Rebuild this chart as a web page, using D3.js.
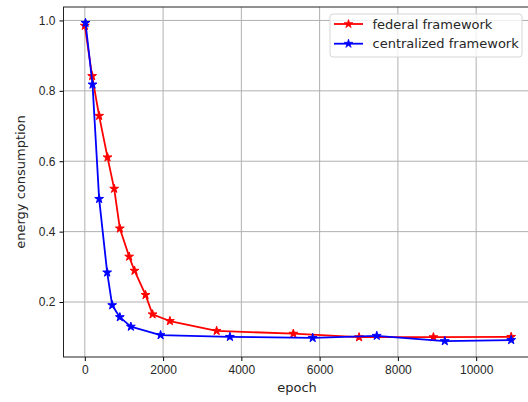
<!DOCTYPE html>
<html lang="en">
<head>
    <meta charset="UTF-8">
    <title>Energy consumption</title>
    <style>
        body {
            margin: 0;
            overflow: hidden;
        }
        svg {
            display: block;
            font-family: "DejaVu Sans", sans-serif;
        }
        .grid line {
            stroke: #b0b0b0;
            stroke-width: 1;
        }
        .tick text {
            font-size: 12px;
        }
        .label {
            font-size: 13px;
        }
        .legend-text {
            font-size: 13px;
        }
    </style>
</head>
<body>

<svg id="chart" width="528" height="402"></svg>

<script src="https://d3js.org/d3.v7.min.js"></script>
<script>
    // federal framework
    const fedEpochs = [0, 187, 366, 580, 750, 895, 1133, 1270, 1552, 1731, 2174, 3368, 5328, 7008, 8908, 10895];
    const fedEnergy = [0.985, 0.842, 0.729, 0.611, 0.522, 0.409, 0.329, 0.289, 0.220, 0.165, 0.146, 0.118, 0.110, 0.100, 0.100, 0.101];

    // centralized framework
    const cenEpochs = [18, 197, 366, 571, 699, 895, 1176, 1936, 3708, 5823, 7460, 9199, 10895];
    const cenEnergy = [0.993, 0.818, 0.493, 0.284, 0.191, 0.157, 0.130, 0.106, 0.101, 0.098, 0.104, 0.089, 0.092];

    const xTicks = [0, 2000, 4000, 6000, 8000, 10000];
    const yTicks = [0.2, 0.4, 0.6, 0.8, 1.0];

    const seriesNames = ["federal framework", "centralized framework"];
    const seriesColors = ["red", "blue"];

    const series = [
        fedEpochs.map((e, i) => ({x: e, y: fedEnergy[i]})),
        cenEpochs.map((e, i) => ({x: e, y: cenEnergy[i]}))
    ];

    const svg = d3.select("#chart");
    const mLeft = 63.5, mRight = 532.5, mTop = 7, mBottom = 357;

    // matplotlib style 5% margins
    const allX = fedEpochs.concat(cenEpochs);
    const allY = fedEnergy.concat(cenEnergy);
    const xExt = d3.extent(allX), yExt = d3.extent(allY);
    const xPad = (xExt[1] - xExt[0]) * 0.05, yPad = (yExt[1] - yExt[0]) * 0.05;

    const x = d3.scaleLinear()
        .domain([xExt[0] - xPad, xExt[1] + xPad])
        .range([mLeft, mRight]);
    const y = d3.scaleLinear()
        .domain([yExt[0] - yPad, yExt[1] + yPad])
        .range([mBottom, mTop]);

    // grid
    const grid = svg.append("g").attr("class", "grid");
    grid.selectAll(".gx").data(xTicks).enter().append("line")
        .attr("x1", d => x(d)).attr("x2", d => x(d))
        .attr("y1", mTop).attr("y2", mBottom);
    grid.selectAll(".gy").data(yTicks).enter().append("line")
        .attr("x1", mLeft).attr("x2", mRight)
        .attr("y1", d => y(d)).attr("y2", d => y(d));

    // axes
    const xAxis = svg.append("g")
        .attr("transform", `translate(0,${mBottom})`)
        .call(d3.axisBottom(x).tickValues(xTicks).tickFormat(d3.format("d")).tickSizeOuter(0).tickSize(4).tickPadding(4));
    const yAxis = svg.append("g")
        .attr("transform", `translate(${mLeft},0)`)
        .call(d3.axisLeft(y).tickValues(yTicks).tickFormat(d3.format(".1f")).tickSizeOuter(0).tickSize(4).tickPadding(4));
    xAxis.select(".domain").remove();
    yAxis.select(".domain").remove();
    svg.selectAll(".tick text").attr("fill", "#262626");

    // frame
    svg.append("rect")
        .attr("x", mLeft).attr("y", mTop)
        .attr("width", mRight - mLeft).attr("height", mBottom - mTop)
        .attr("fill", "none").attr("stroke", "#222").attr("stroke-width", 1);

    // lines and markers
    const line = d3.line().x(d => x(d.x)).y(d => y(d.y));
    const star = d3.symbol().type(d3.symbolStar).size(24);

    series.forEach((data, i) => {
        const g = svg.append("g");
        g.append("path")
            .datum(data)
            .attr("d", line)
            .attr("fill", "none")
            .attr("stroke", seriesColors[i])
            .attr("stroke-width", 1.8)
            .attr("stroke-linejoin", "round");
        g.selectAll("path.pt").data(data).enter().append("path")
            .attr("class", "pt")
            .attr("d", star)
            .attr("transform", d => `translate(${x(d.x)},${y(d.y)})`)
            .attr("fill", seriesColors[i])
            .attr("stroke", seriesColors[i])
            .attr("stroke-width", 1);
    });

    // axis labels
    svg.append("text")
        .attr("class", "label")
        .attr("x", (mLeft + mRight) / 2 - 1)
        .attr("y", 392)
        .attr("text-anchor", "middle")
        .attr("fill", "#262626")
        .text("epoch");
    svg.append("text")
        .attr("class", "label")
        .attr("transform", `translate(24.5,${(mTop + mBottom) / 2}) rotate(-90)`)
        .attr("text-anchor", "middle")
        .attr("fill", "#262626")
        .text("energy consumption");

    // legend
    const legend = svg.append("g");
    legend.append("rect")
        .attr("x", 330).attr("y", 14)
        .attr("width", 192).attr("height", 43)
        .attr("rx", 3)
        .attr("fill", "white").attr("fill-opacity", 0.8)
        .attr("stroke", "#d6d6d6");
    seriesNames.forEach((name, i) => {
        const ly = 24 + i * 19.7;
        legend.append("line")
            .attr("x1", 334).attr("x2", 363)
            .attr("y1", ly).attr("y2", ly)
            .attr("stroke", seriesColors[i]).attr("stroke-width", 1.8);
        legend.append("path")
            .attr("d", star)
            .attr("transform", `translate(348.5,${ly})`)
            .attr("fill", seriesColors[i])
            .attr("stroke", seriesColors[i])
            .attr("stroke-width", 0.6);
        legend.append("text")
            .attr("class", "legend-text")
            .attr("x", 372.5).attr("y", ly)
            .attr("dy", "0.35em")
            .attr("fill", "#262626")
            .text(name);
    });
</script>

</body>
</html>
